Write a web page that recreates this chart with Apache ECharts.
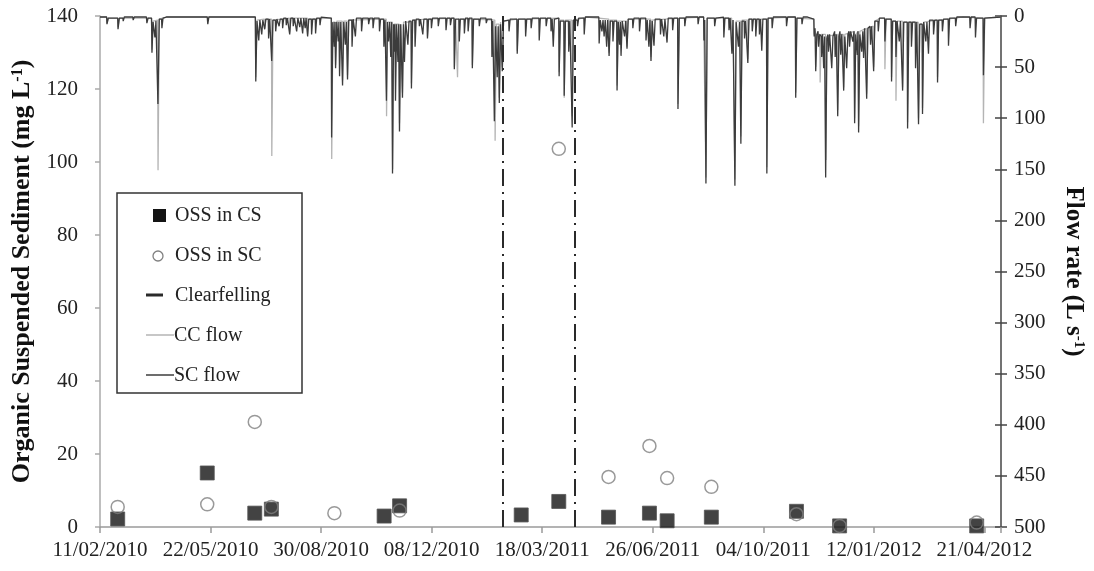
<!DOCTYPE html>
<html><head><meta charset="utf-8">
<script src="https://cdn.jsdelivr.net/npm/echarts@6/dist/echarts.min.js"></script>
<style>html,body{margin:0;padding:0;background:#fff}#c{width:1094px;height:571px}</style>
</head><body><div id="c"></div>
<script>
// x tick labels (every 100 days from 11/02/2010)
const xTickLabels = ['11/02/2010','22/05/2010','30/08/2010','08/12/2010','18/03/2011','26/06/2011','04/10/2011','12/01/2012','21/04/2012'];
const yLeftTicks = [0, 140, 20];      // min, max, step
const yRightTicks = [0, 500, 50];

// Organic suspended sediment samples (mg/L)
const datesCS = ['2010-02-27','2010-05-19','2010-07-01','2010-07-16','2010-10-26','2010-11-09','2011-02-27','2011-04-02','2011-05-17','2011-06-23','2011-07-09','2011-08-18','2011-11-03','2011-12-12','2012-04-14'];
const ossCS   = [2.2, 14.8, 3.8, 4.9, 3.0, 5.8, 3.3, 7.0, 2.7, 3.8, 1.7, 2.7, 4.3, 0.3, 0.3];
const datesSC = ['2010-02-27','2010-05-19','2010-07-01','2010-07-16','2010-09-11','2010-11-09','2011-04-02','2011-05-17','2011-06-23','2011-07-09','2011-08-18','2011-11-03','2011-12-12','2012-04-14'];
const ossSC   = [5.5, 6.2, 28.8, 5.5, 3.8, 4.5, 103.6, 13.7, 22.2, 13.4, 11.0, 3.5, 0.3, 1.2];

// clearfelling period boundaries
const clearfellingDates = ['2011-02-10','2011-04-16'];

// Flow records: [days since 11/02/2010, flow L/s]
const scFlow = [
[0,1],[6,1],[6.3,8],[7.5,2],[16,2],[16.3,13],[17.5,2],[20.7,2],[21,5],[22,1],[29.7,1],[30,4],[31,1],
[42,1],[42.4,7],[43.5,2],[46.6,2],[47,36],[48,6],[49.4,6],[49.7,21],[50.6,5],[52,4],[52.4,86],[53.6,3],[55.7,3],[56,12],[57,2],
[60,1],[97,1],[97.5,8],[98.5,1],
[140.5,1],[140.9,64],[142,5],[143.3,5],[143.6,24],[144.6,4],[146,4],[146.3,18],[147.3,4],[148.7,4],[149,13],[150,3],[152.2,3],[152.5,22],[153.5,3],
[155,3],[155.3,44],[156.4,4],[158.6,4],[158.9,15],[160,3],[161.7,3],[162,10],[163,3],[164.9,3],[165.2,12],[166.2,2],[168.2,2],[168.5,9],[169.5,2],[171.3,2],[171.6,18],[172.6,2],[174.5,2],[174.8,10],[175.8,2],
[177.6,2],[177.9,15],[179,2],[180.4,2],[180.7,11],[181.7,2],[183,2],[183.3,17],[184.3,2],[185.3,2],[185.6,12],[186.4,2],[187.5,2],[187.8,20],[188.8,3],[191.1,3],[191.4,18],[192.4,3],[194.7,3],[195,17],[196,2],[198.7,2],[199,9],[200,1],
[209.2,2],[209.5,119],[210.6,6],[211.6,6],[211.9,30],[212.5,6],[212.8,6],[213.1,51],[214.2,6],[215.2,6],[215.5,25],[216.1,6],[216.4,6],[216.7,59],[217.8,6],[219.1,6],[219.4,68],[220.5,6],[221.6,6],[221.9,28],[222.8,6],[223.6,6],[223.9,62],[225,4],[227.7,4],[228,30],[229,3],[230.7,3],[231,20],[232,2],
[236.3,2],[236.6,15],[237.6,2],[242.7,2],[243,8],[244,2],[246.7,2],[247,12],[248,2],[252.5,2],[252.8,15],[253.8,3],
[256.5,3],[256.8,30],[257.8,4],
[258.8,4],[259.1,83],[260,6],[260.7,6],[261,25],[262,6],[262.7,6],[263,40],[263.8,6],[264.3,6],[264.6,154],[265.6,8],[266.1,8],[266.4,35],[266.8,8],[267,8],[267.3,83],[268.3,8],[269.2,8],[269.5,45],[270.2,8],[270.6,8],[270.9,113],[272,8],
[273.3,8],[273.6,80],[274.5,8],[275.1,8],[275.4,45],[276.5,5],[278.2,5],[278.5,28],[279.5,5],[281.4,5],[281.7,71],[282.8,4],[284.7,4],[285,30],[286,3],
[288.6,3],[288.9,10],[289.9,3],[291.7,3],[292,18],[293,3],[295.9,3],[296.2,22],[297.2,3],[299.5,3],[299.8,12],[300.8,2],[305.7,2],[306,10],[307,2],[312.7,2],[313,14],[314,2],[316.7,2],[317,9],[318,2],
[320.2,2],[320.5,52],[321.6,3],[324.7,3],[325,25],[326,3],[329.3,3],[329.6,17],[330.6,2],[332.7,2],[333,15],[334,2],[336.5,2],[336.8,51],[337.9,3],[342.8,3],[343.1,10],[344.1,2],[349.1,2],[349.4,7],[350.4,3],
[354.2,3],[354.5,40],[355.3,5],[356.4,5],[356.7,103],[357.8,10],[359,10],[359.3,60],[360.2,10],[360.9,10],[361.2,85],[362.3,8],[363.6,8],[363.9,54],[365,5],[369.7,4],[370,15],[371,3],
[377.1,3],[377.4,37],[378.5,3],[384.7,3],[385,20],[386,3],[389.7,3],[390,12],[391,2],[397,2],[397.3,24],[398.3,2],[403.3,2],[403.6,10],[404.6,2],[407.7,2],[408,15],[409,3],[409.7,3],[410,30],[411,3],
[415,2],[415.3,59],[416.4,5],[419.6,5],[419.9,78],[421,5],[423.7,5],[424,35],[425,5],[426.8,5],[427.1,109],[428.2,4],[431.7,4],[432,10],[433,2],[437.7,2],[438,18],[439,1],
[444,1],[451.2,1],[451.5,27],[452.5,4],[453.7,4],[454,15],[455,4],[455.7,4],[456,20],[457,4],[458,4],[458.3,30],[459.2,4],[460.2,4],[460.5,39],[461.6,5],[463.7,5],[464,25],[465,5],[467.4,5],[467.7,73],[468.8,6],
[469.7,6],[470,28],[470.7,6],[471,6],[471.3,39],[472.4,5],[474.2,5],[474.5,20],[475.5,5],[476.4,5],[476.7,32],[477.8,3],[481.7,3],[482,12],[483,2],[487.7,2],[488,15],[489,2],
[493.6,2],[493.9,24],[495,4],[496.2,4],[496.5,30],[497.4,4],[498.1,4],[498.4,44],[499.5,5],[500.8,5],[501.1,29],[502.2,3],[506.7,3],[507,18],[508,3],[509.7,3],[510,20],[511,3],[512.6,3],[512.9,26],[514,2],[517.7,2],[518,14],[519,2],[522.5,2],[522.8,91],[524,2],[528.7,2],[529,10],[530,1],
[535,1],[540.7,1],[541,8],[542,1],[546,1],[546.3,24],[547,4],[547.8,4],[548.1,164],[549.2,2],[555.7,2],[556,10],[557,2],
[564,1],[564.3,21],[565.3,2],[568.7,2],[569,14],[570,2],[571.3,2],[571.6,37],[572.6,4],[574,4],[574.3,166],[575.4,6],[577.2,6],[577.5,30],[578.5,6],[579.4,6],[579.7,125],[580.8,5],[582.7,5],[583,22],[584,5],[585.7,5],[586,46],[587,3],
[589.7,3],[590,15],[591,3],[592.9,3],[593.2,20],[594.2,3],[596.2,3],[596.5,18],[597.5,3],[598.3,3],[598.6,34],[599.6,3],[602.9,3],[603.2,154],[604.3,2],[607.7,2],[608,12],[609,1],
[615,1],[620.7,1],[621,10],[622,1],[629,1],[629.3,80],[630.4,2],[634.7,2],[635,8],[636,1],[640,1],
[645.7,3],[646,20],[646.8,12],[647.1,12],[647.4,54],[648.4,18],[649.5,15],[650,30],[651,18],[652.5,20],[652.8,40],[653.6,18],[654.3,18],[654.6,51],[655.4,20],[656.1,20],[656.4,158],[657.5,22],[658.5,18],[659,35],[660,18],[661.6,18],[661.9,51],[663,20],[664.5,15],[665,40],[666,18],
[667,18],[667.3,98],[668.4,20],[669.3,15],[670,38],[671,18],[672.4,18],[672.7,73],[673.7,20],[675.1,20],[675.4,51],[676.5,18],[677.5,15],[678,30],[679,15],[680.5,15],[681,25],[682,15],[682.3,15],[682.6,105],[683.6,18],
[684.5,18],[685,38],[685.6,15],[685.9,15],[686.2,114],[687.3,18],[688.5,18],[689,35],[690,15],[690.4,15],[690.7,41],[691.6,12],[693.2,12],[693.5,81],[694.6,12],[696.5,10],[697,28],[698,10],[699.5,10],[699.8,54],[700.9,5],
[703.7,5],[704,15],[705,2],[706,2],[709.7,2],[710,25],[711,3],[715.7,3],[716,64],[717,5],[719.7,5],[720,40],[721,5],[722.7,5],[723,25],[724,5],[725.7,5],[726,73],[727,6],[730.2,6],[730.5,110],[731.6,6],[733.7,6],[734,30],[735,6],[737.4,6],[737.7,51],[738.8,6],
[740.1,6],[740.4,106],[741.5,8],[743.7,8],[744,96],[745.1,6],[746.7,6],[747,25],[748,6],[749.1,6],[749.4,37],[750.4,4],[753.7,4],[754,18],[755,4],[757.3,4],[757.6,65],[758.6,4],[761.7,4],[762,15],[763,3],[767.2,3],[767.5,29],[768.5,2],
[773.7,2],[774,10],[775,1],[780,1],[786.7,1],[787,12],[788,1],[791.6,1],[791.9,21],[792.9,2],[798.8,2],[799.1,58],[800.2,2],[815,1]
];
const ccFlow = [
[0,1],[6,1],[6.3,7],[7.5,2],[16,2],[16.3,11],[17.5,2],
[46.6,2],[47,33],[48,5],[52.1,4],[52.5,151],[53.6,3],[60,1],
[140.5,1],[140.9,60],[142,4],[148.7,3],[149,12],[150,3],
[155.1,3],[155.4,137],[156.5,4],[171.3,2],[171.6,16],[172.6,2],[187.5,2],[187.8,18],[188.8,3],
[209.3,2],[209.6,140],[210.7,6],[212.8,6],[213.1,48],[214.2,5],[219.1,5],[219.4,63],[220.5,5],[223.6,5],[223.9,58],[225,4],
[258.9,3],[259.2,98],[260.2,6],[264.4,6],[264.7,150],[265.7,8],[270.6,8],[270.9,105],[272,8],[273.3,8],[273.6,75],[274.6,6],[281.4,6],[281.7,66],[282.8,4],
[295.9,3],[296.2,20],[297.2,3],
[320.3,2],[320.6,50],[321.6,3],[323.1,3],[323.4,60],[324.4,3],[336.5,3],[336.8,48],[337.9,3],
[357.1,4],[357.4,122],[358.5,8],[360.9,8],[361.2,80],[362.3,6],[363.6,6],[363.9,50],[365,5],
[377.1,3],[377.4,34],[378.5,3],
[415,2],[415.3,55],[416.4,4],[419.6,4],[419.9,80],[421,4],[426.8,4],[427.1,98],[428.2,4],[440,1],
[460.2,3],[460.5,36],[461.6,4],[467.4,4],[467.7,68],[468.8,5],[476.4,5],[476.7,30],[477.8,3],
[498.1,3],[498.4,40],[499.5,4],[522.5,2],[522.8,86],[524,2],
[546,1],[547.8,2],[548.1,158],[549.2,2],
[571.3,2],[571.6,34],[572.6,4],[574,4],[574.3,160],[575.4,5],[579.4,5],[579.7,118],[580.8,4],[585.7,4],[586,42],[587,3],[602.9,3],[603.2,148],[604.3,2],
[629,1],[629.3,75],[630.4,2],
[645.7,3],[646,18],[647.1,15],[647.4,50],[648.4,18],[651.1,18],[651.4,65],[652.4,18],[656.3,18],[656.6,141],[657.6,20],[667,18],[667.3,92],[668.4,18],
[672.4,18],[672.7,70],[673.7,18],[682.3,15],[682.6,100],[683.6,18],[685.9,15],[686.2,108],[687.3,15],[693.2,12],[693.5,76],[694.6,12],[699.5,10],[699.8,50],[700.9,5],
[706,2],[709.7,2],[710,52],[711,3],[715.7,3],[716,60],[717,5],[719.7,5],[720,83],[721,5],[725.7,5],[726,70],[727,6],[730.2,6],[730.5,104],[731.6,6],
[740.1,6],[740.4,100],[741.5,8],[743.7,8],[744,90],[745.1,6],[757.3,4],[757.6,60],[758.6,4],
[780,1],[798.8,2],[799.1,105],[800.2,2],[815,1]
];

const FONT = 'Liberation Serif';
const T0 = Date.UTC(2010, 1, 11);
function dayOf(s) { const p = s.split('-').map(Number); return (Date.UTC(p[0], p[1]-1, p[2]) - T0) / 86400000; }

const chart = echarts.init(document.getElementById('c'), null, {renderer: 'canvas'});
const lbl = {fontFamily: FONT, fontSize: 21, color: '#222'};
chart.setOption({
  animation: false,
  backgroundColor: '#fff',
  grid: {left: 100, right: 91, top: 16, bottom: 44},
  xAxis: {
    type: 'value', min: 0, max: 815, interval: 100,
    axisLine: {show: true, lineStyle: {color: '#9a9a9a', width: 1.5}},
    axisTick: {show: true, length: 6, lineStyle: {color: '#9a9a9a', width: 1.5}},
    axisLabel: Object.assign({}, lbl, {margin: 13, hideOverlap: false,
      formatter: v => (v % 100 === 0 && xTickLabels[v / 100]) ? xTickLabels[v / 100] : ''}),
    splitLine: {show: false}
  },
  yAxis: [
    {type: 'value', min: yLeftTicks[0], max: yLeftTicks[1], interval: yLeftTicks[2], position: 'left',
     name: 'Organic Suspended Sediment (mg L{sup|-1})', nameLocation: 'middle', nameGap: 60,
     nameTextStyle: {fontFamily: FONT, fontSize: 26, fontWeight: 'bold', color: '#111',
       rich: {sup: {fontFamily: FONT, fontSize: 16, fontWeight: 'bold', color: '#111', verticalAlign: 'top'}}},
     axisLine: {show: true, lineStyle: {color: '#aaaaaa', width: 1.5}},
     axisTick: {show: true, length: 5, lineStyle: {color: '#aaaaaa', width: 1.5}},
     axisLabel: Object.assign({}, lbl, {margin: 22}),
     splitLine: {show: false}},
    {type: 'value', min: yRightTicks[0], max: yRightTicks[1], interval: yRightTicks[2], position: 'right', inverse: true,
     name: 'Flow rate (L s{sup|-1})', nameLocation: 'middle', nameGap: 60, nameRotate: -90,
     nameTextStyle: {fontFamily: FONT, fontSize: 25, fontWeight: 'bold', color: '#111',
       rich: {sup: {fontFamily: FONT, fontSize: 15, fontWeight: 'bold', color: '#111', verticalAlign: 'top'}}},
     axisLine: {show: true, lineStyle: {color: '#444', width: 1.5}},
     axisTick: {show: true, length: 6, lineStyle: {color: '#444', width: 1.5}},
     axisLabel: Object.assign({}, lbl, {margin: 13}),
     splitLine: {show: false}},
    {type: 'value', min: yRightTicks[0], max: yRightTicks[1], interval: yRightTicks[2], position: 'right', inverse: true,
     axisLine: {show: false}, axisLabel: {show: false}, splitLine: {show: false},
     axisTick: {show: true, inside: true, length: 6, lineStyle: {color: '#444', width: 1.5}}}
  ],
  series: [
    {name: 'CC flow', type: 'line', yAxisIndex: 1, data: ccFlow, showSymbol: false, symbol: 'none',
     lineStyle: {color: '#b4b4b4', width: 1.3}, z: 2},
    {name: 'SC flow', type: 'line', yAxisIndex: 1, data: scFlow, showSymbol: false, symbol: 'none',
     lineStyle: {color: '#3c3c3c', width: 1.3}, z: 3},
    {name: 'OSS in CS', type: 'scatter', yAxisIndex: 0, symbol: 'rect', symbolSize: 14,
     data: datesCS.map((d, i) => [dayOf(d), ossCS[i]]),
     itemStyle: {color: '#141414', borderColor: '#555', borderWidth: 1}, z: 4,
     markLine: {silent: true, symbol: ['none', 'none'], label: {show: false},
       lineStyle: {color: '#2a2a2a', width: 2, type: [17, 6, 2, 6]},
       data: clearfellingDates.map(d => ({xAxis: dayOf(d)}))}},
    {name: 'OSS in SC', type: 'scatter', yAxisIndex: 0, symbol: 'circle', symbolSize: 13,
     data: datesSC.map((d, i) => [dayOf(d), ossSC[i]]),
     itemStyle: {color: 'rgba(255,255,255,0)', borderColor: '#808080', borderWidth: 1.5}, z: 5}
  ],
  graphic: [
    {type: 'rect', z: 100, shape: {x: 117, y: 193, width: 185, height: 200}, style: {fill: '#fff', stroke: '#333', lineWidth: 1.5}},
    {type: 'rect', z: 101, shape: {x: 153, y: 209, width: 13, height: 13}, style: {fill: '#141414'}},
    {type: 'text', z: 101, x: 175, y: 216, style: {text: 'OSS in CS', fontFamily: FONT, fontSize: 20, fill: '#222', verticalAlign: 'middle'}},
    {type: 'circle', z: 101, shape: {cx: 158, cy: 256, r: 5}, style: {fill: '#fff', stroke: '#808080', lineWidth: 1.3}},
    {type: 'text', z: 101, x: 175, y: 256, style: {text: 'OSS in SC', fontFamily: FONT, fontSize: 20, fill: '#222', verticalAlign: 'middle'}},
    {type: 'line', z: 101, shape: {x1: 146, y1: 295, x2: 163, y2: 295}, style: {stroke: '#2a2a2a', lineWidth: 3}},
    {type: 'text', z: 101, x: 175, y: 296, style: {text: 'Clearfelling', fontFamily: FONT, fontSize: 20, fill: '#222', verticalAlign: 'middle'}},
    {type: 'line', z: 101, shape: {x1: 146, y1: 335, x2: 174, y2: 335}, style: {stroke: '#b4b4b4', lineWidth: 1.5}},
    {type: 'text', z: 101, x: 174, y: 336, style: {text: 'CC flow', fontFamily: FONT, fontSize: 20, fill: '#222', verticalAlign: 'middle'}},
    {type: 'line', z: 101, shape: {x1: 146, y1: 375, x2: 174, y2: 375}, style: {stroke: '#3c3c3c', lineWidth: 1.5}},
    {type: 'text', z: 101, x: 174, y: 376, style: {text: 'SC flow', fontFamily: FONT, fontSize: 20, fill: '#222', verticalAlign: 'middle'}}
  ]
});
</script></body></html>
